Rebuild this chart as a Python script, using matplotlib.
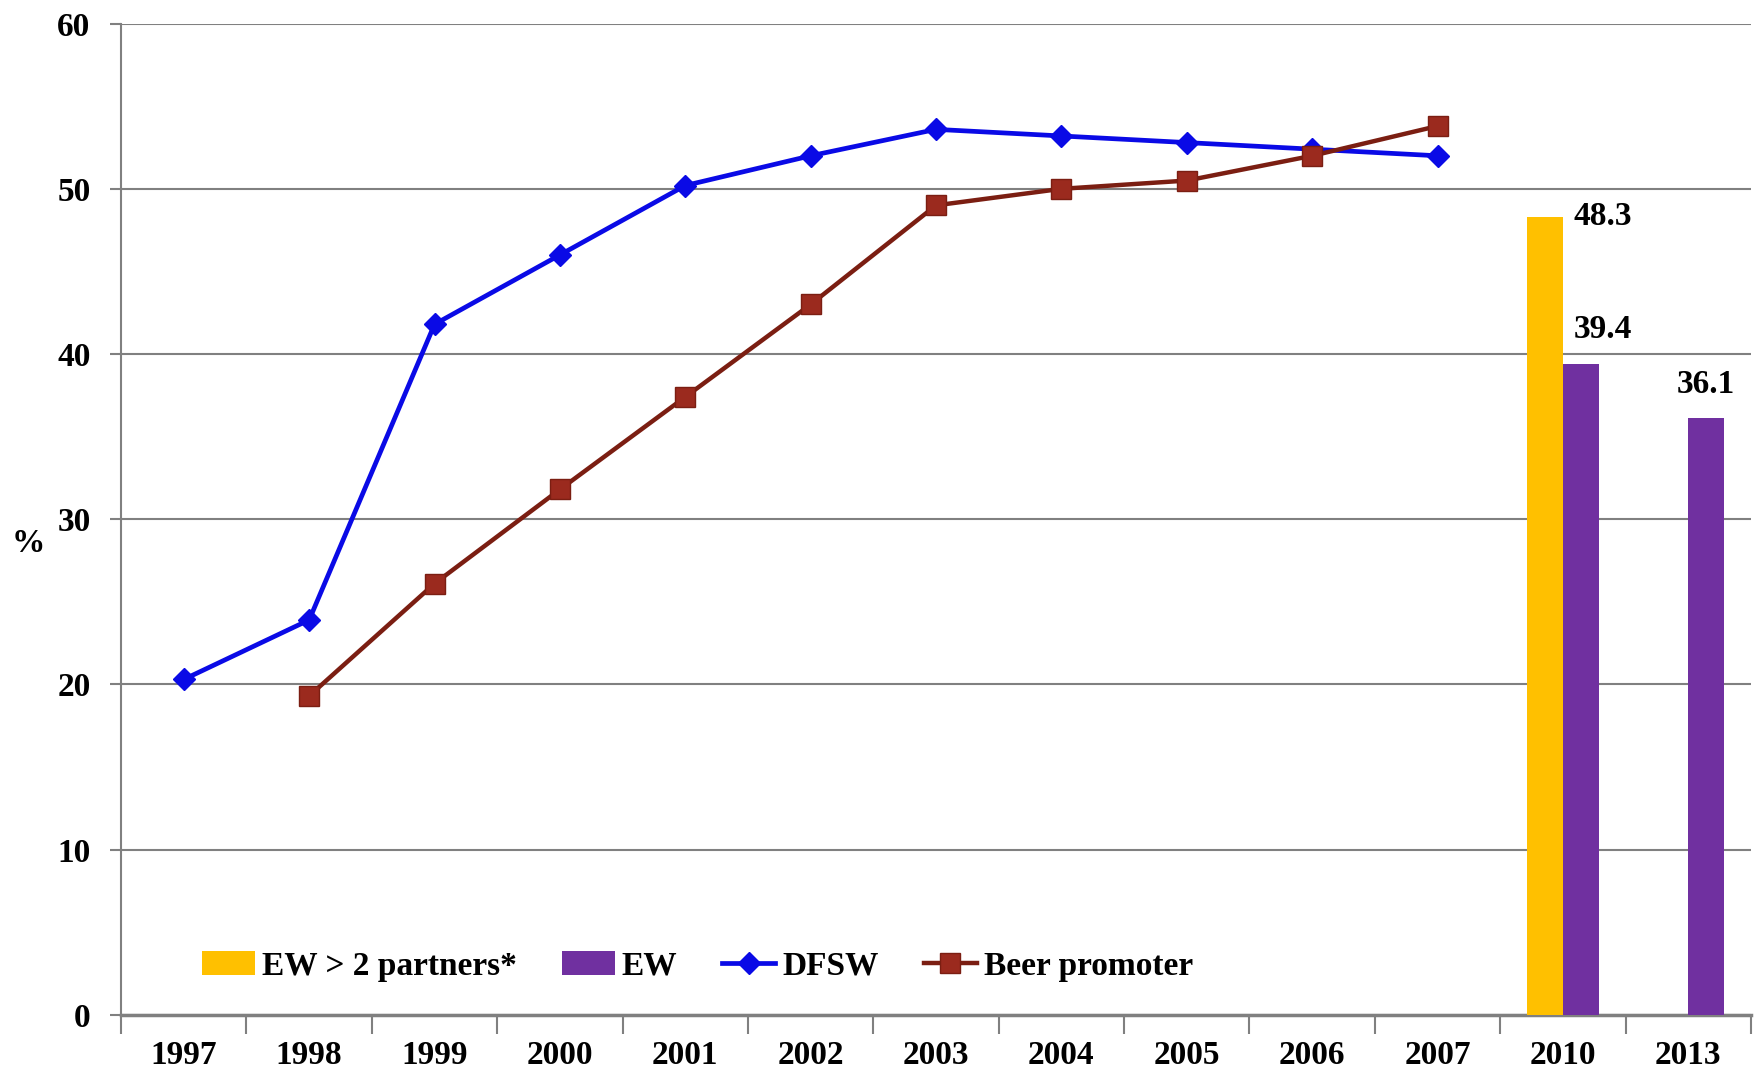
import numpy as np
import matplotlib
matplotlib.use('Agg')
import matplotlib.pyplot as plt

years = ['1997', '1998', '1999', '2000', '2001', '2002', '2003', '2004',
         '2005', '2006', '2007', '2010', '2013']
dfsw = [20.3, 23.9, 41.8, 46.0, 50.2, 52.0, 53.6, 53.2, 52.8, 52.4, 52.0, None, None]
beer = [None, 19.3, 26.1, 31.8, 37.4, 43.0, 49.0, 50.0, 50.5, 52.0, 53.8, None, None]
ew_partners = [None] * 11 + [48.3, None]
ew = [None] * 11 + [39.4, 36.1]

plt.rcParams['font.family'] = ['Liberation Serif', 'DejaVu Serif']
plt.rcParams['font.weight'] = 'bold'
fs = 24

fig = plt.figure(figsize=(17.58, 10.75), dpi=100)
ax = fig.add_axes([0.0689, 0.0561, 0.9271, 0.9219])

x = np.arange(len(years))
w = 0.286

def to_arr(v):
    return np.array([np.nan if a is None else a for a in v], dtype=float)

b1 = ax.bar(x - w / 2, np.nan_to_num(to_arr(ew_partners)), w, color='#FFC000',
            label='EW > 2 partners*', zorder=3)
b2 = ax.bar(x + w / 2, np.nan_to_num(to_arr(ew)), w, color='#7030A0',
            label='EW', zorder=3)
l1, = ax.plot(x, to_arr(dfsw), color='#0A0AE6', lw=3.4, marker='D', ms=11,
              label='DFSW', zorder=4)
l2, = ax.plot(x, to_arr(beer), color='#7B1E12', lw=3.2, marker='s', ms=14,
              mfc='#9B2A1E', mec='#7B1E12', label='Beer promoter', zorder=4)

# data labels
for i, v in enumerate(ew_partners):
    if v is not None:
        ax.annotate(f'{v:.1f}', (x[i] - w / 2, v), xytext=(58, 0),
                    textcoords='offset pixels', ha='center', va='center',
                    fontsize=fs, fontweight='bold')
ew_dx = {11: 22, 12: 0}
for i, v in enumerate(ew):
    if v is not None:
        ax.annotate(f'{v:.1f}', (x[i] + w / 2, v), xytext=(ew_dx[i], 34),
                    textcoords='offset pixels', ha='center', va='center',
                    fontsize=fs, fontweight='bold')

ax.set_xlim(-0.5, len(years) - 0.5)
ax.set_ylim(0, 60)
ax.set_yticks(range(0, 61, 10))
ax.set_xticks(x)
ax.set_xticklabels(years)
ax.set_xticks(np.arange(-0.5, len(years), 1), minor=True)
ax.tick_params(axis='x', which='major', length=0, pad=18, labelsize=fs)
ax.tick_params(axis='x', which='minor', length=14, width=1.5, color='#808080')
ax.tick_params(axis='y', length=8, width=1.5, color='#808080', labelsize=fs, pad=14)

ax.grid(axis='y', color='#808080', lw=1.5, zorder=0)
for s in ['top', 'right']:
    ax.spines[s].set_visible(False)
ax.spines['left'].set_color('#808080')
ax.spines['left'].set_linewidth(1.5)
ax.spines['bottom'].set_color('#808080')
ax.spines['bottom'].set_linewidth(2.5)

fig.text(0.016, 0.494, '%', fontsize=fs, fontweight='bold', ha='center', va='center')

ax.legend(handles=[b1, b2, l1, l2], loc='center left', bbox_to_anchor=(0.031, 0.049),
          ncol=4, frameon=False, fontsize=fs, handlelength=1.6, handletextpad=0.2,
          columnspacing=1.35)

fig.savefig('out.png', dpi=100)
